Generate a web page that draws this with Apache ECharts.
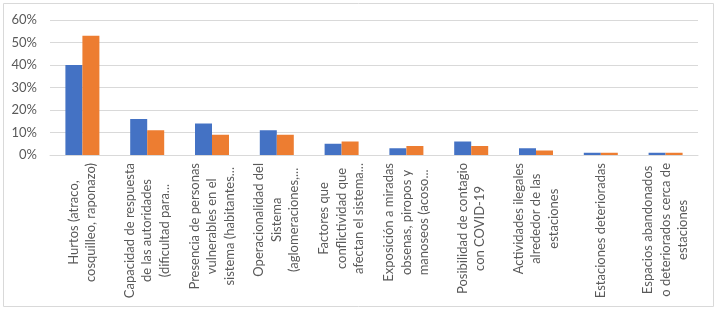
<!DOCTYPE html>
<html>
<head>
<meta charset="utf-8">
<script src="https://cdn.jsdelivr.net/npm/echarts@6/dist/echarts.min.js"></script>
<style>
html, body { margin: 0; padding: 0; background: #fff; }
#chart { width: 718px; height: 309px; }
</style>
</head>
<body>
<div id="chart"></div>
<script>
'use strict';
var categories = [
    "Hurtos (atraco,\ncosquilleo, raponazo)",
    "Capacidad de respuesta\nde las autoridades\n(dificultad para...",
    "Presencia de personas\nvulnerables en el\nsistema (habitantes...",
    "Operacionalidad del\nSistema\n(aglomeraciones,...",
    "Factores que\nconflictividad que\nafectan el sistema...",
    "Exposición a miradas\nobsenas, piropos y\nmanoseos (acoso...",
    "Posibilidad de contagio\ncon COVID-19",
    "Actividades ilegales\nalrededor de las\nestaciones",
    "Estaciones deterioradas",
    "Espacios abandonados\no deteriorados cerca de\nestaciones"
];
var serie1 = [40, 16, 14, 11, 5, 3, 6, 3, 1, 1];
var serie2 = [53, 11, 9, 9, 6, 4, 4, 2, 1, 1];
var yTicks = [0, 10, 20, 30, 40, 50, 60];

var font = "Lato, 'Liberation Sans', sans-serif";
var chart = echarts.init(document.getElementById("chart"), null, { renderer: "canvas" });
chart.setOption({
    animation: false,
    graphic: [{
        type: "rect",
        shape: { x: 3.5, y: 3.5, width: 710, height: 303 },
        style: { fill: "none", stroke: "#D9D9D9", lineWidth: 1 },
        silent: true
    }],
    grid: { left: 50, right: 20, top: 20, bottom: 154 },
    xAxis: {
        type: "category",
        data: categories,
        axisLine: { lineStyle: { color: "#D9D9D9" } },
        axisTick: { show: false },
        axisLabel: {
            interval: 0,
            rotate: 90,
            margin: 8,
            color: "#595959",
            fontFamily: font,
            fontSize: 13,
            lineHeight: 17.5,
            formatter: function(v) {
                return v.split("\n").map(function(s) { return "{c|" + s + "}"; }).join("\n");
            },
            rich: {
                c: { align: "center", color: "#595959", fontFamily: font, fontSize: 13, lineHeight: 17.5 }
            }
        }
    },
    yAxis: {
        type: "value",
        min: yTicks[0],
        max: yTicks[yTicks.length - 1],
        interval: 10,
        axisLine: { show: false },
        axisTick: { show: false },
        splitLine: { lineStyle: { color: "#D9D9D9" } },
        axisLabel: {
            margin: 13,
            color: "#595959",
            fontFamily: font,
            fontSize: 13,
            formatter: "{value}%"
        }
    },
    series: [{
        name: "Serie 1",
        type: "bar",
        barWidth: 17,
        barGap: "0%",
        itemStyle: { color: "#4472C4" },
        data: serie1
    }, {
        name: "Serie 2",
        type: "bar",
        barWidth: 17,
        itemStyle: { color: "#ED7D31" },
        data: serie2
    }]
});
</script>
</body>
</html>
